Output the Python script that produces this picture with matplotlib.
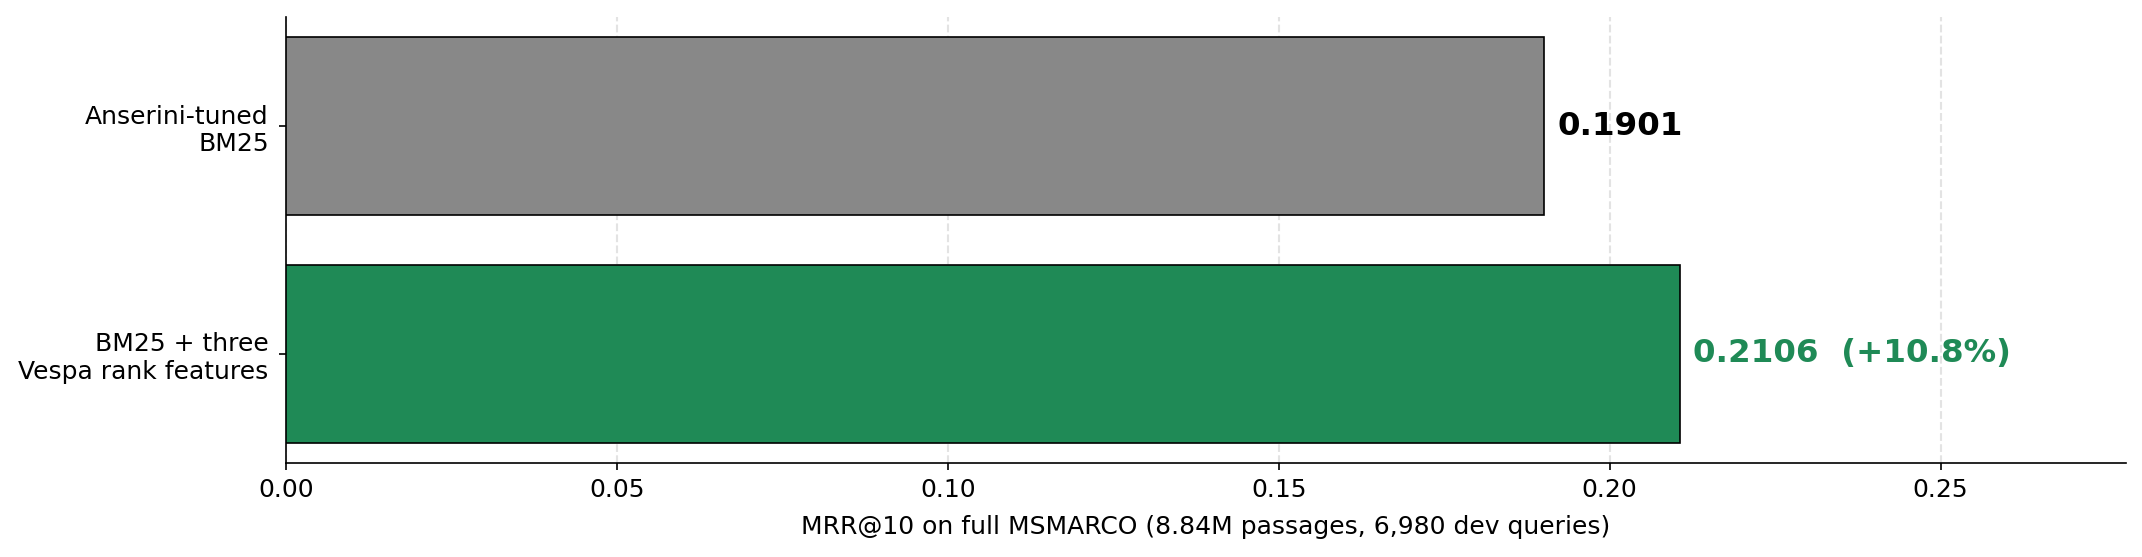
import matplotlib
matplotlib.use("Agg")
import matplotlib.pyplot as plt

categories = ["Anserini-tuned\nBM25", "BM25 + three\nVespa rank features"]
values = [0.1901, 0.2106]
labels = ["0.1901", "0.2106  (+10.8%)"]
colors = ["#888888", "#1f8a56"]
label_colors = ["black", "#1f8a56"]

fig = plt.figure(figsize=(2142/150, 557/150), dpi=150)
ax = fig.add_axes([286/2142, 1 - 463/557, (2126-286)/2142, (463-17)/557])

ypos = list(range(len(categories)))
ax.barh(ypos, values, height=0.78, color=colors, edgecolor="black", linewidth=0.8, zorder=3)
ax.set_yticks(ypos)
ax.set_yticklabels(categories, fontsize=12)
ax.tick_params(axis="y", pad=4.8)
ax.invert_yaxis()

for y, v, t, c in zip(ypos, values, labels, label_colors):
    ax.text(v + 0.002, y, t, va="center", ha="left", fontsize=15.6, fontweight="bold", color=c, zorder=4)

ax.set_xlim(0, 0.278)
ax.tick_params(axis="x", labelsize=12)
ax.set_xlabel("MRR@10 on full MSMARCO (8.84M passages, 6,980 dev queries)", fontsize=12, labelpad=6.5)
ax.grid(axis="x", linestyle="--", color="#e3e3e3", linewidth=1.0, zorder=0)
ax.set_axisbelow(True)
ax.spines["top"].set_visible(False)
ax.spines["right"].set_visible(False)

fig.savefig("out.png", dpi=150)
